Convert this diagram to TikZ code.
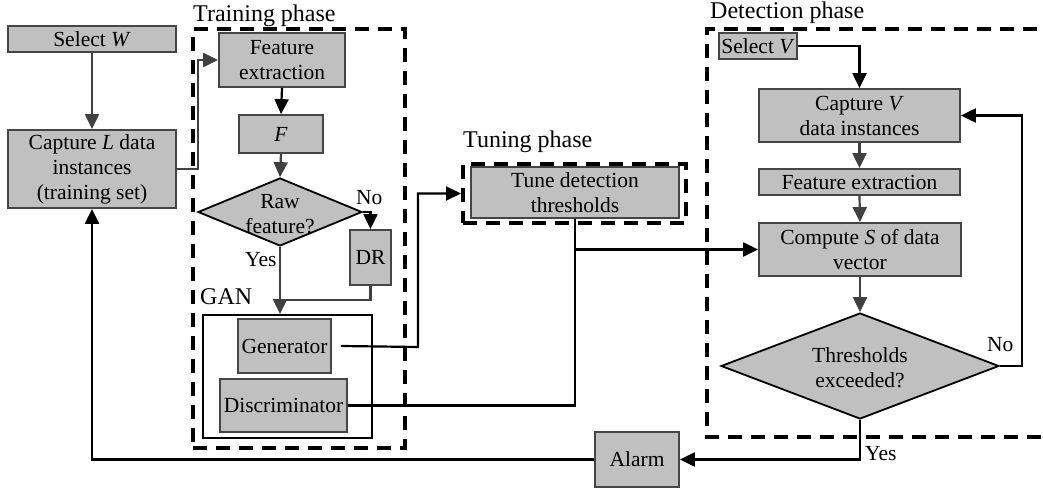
\documentclass[tikz,border=0pt]{standalone}
\usepackage{fontspec}
\setmainfont{Liberation Serif}
\usetikzlibrary{shapes.geometric,arrows.meta}
\definecolor{boxfill}{HTML}{C0C0C0}
\definecolor{boxline}{HTML}{454545}
\definecolor{darkarrow}{HTML}{404040}
\newcommand{\boxfont}{\rmfamily\fontsize{21.5}{25}\selectfont}
\tikzset{
  box/.style={draw=boxline, fill=boxfill, line width=1.8pt, align=center, inner sep=0pt,
              font=\boxfont},
  dia/.style={shape=diamond, draw=black, fill=boxfill, line width=1.8pt, inner sep=0pt},
  txt/.style={font=\boxfont, align=center, inner sep=0pt},
  lbl/.style={font=\rmfamily\fontsize{24}{28}\selectfont, inner sep=0pt, anchor=base west},
  small/.style={font=\boxfont, inner sep=0pt, anchor=base west},
  dashbox/.style={draw=black, line width=4pt, dash pattern=on 14pt off 9pt},
  blk/.style={draw=black, line width=2.2pt, -{Triangle[length=15pt,width=14pt]}},
  gry/.style={draw=darkarrow, line width=2.2pt, -{Triangle[length=15pt,width=14pt]}},
  plain/.style={draw=black, line width=2.2pt},
}
\begin{document}
\begin{tikzpicture}[x=1pt,y=-1pt]
\useasboundingbox (0,0) rectangle (1043,494);

% phase frames
\node[dashbox, minimum width=212pt, minimum height=419pt, inner sep=0pt] (training) at (299,238.5) {};
\node[lbl] (trainlbl) at (193,22) {Training phase};
\node[dashbox, minimum width=223pt, minimum height=59pt, inner sep=0pt] (tuning) at (574.5,193.5) {};
\node[lbl] (tunelbl) at (463,148) {Tuning phase};
\draw[dashbox] (1060,29) -- (707,29) -- (707,437) -- (1060,437);
\node[lbl] (detlbl) at (710,19) {Detection phase};

% left column
\node[box, minimum width=168pt, minimum height=26pt] (selW) at (92,39) {Select \textit{W}};
\node[box, minimum width=168pt, minimum height=78pt] (capL) at (92,169) {Capture \textit{L} data\\instances\\(training set)};

% training phase
\node[box, minimum width=126pt, minimum height=54pt] (feat1) at (282,60) {Feature\\extraction};
\node[box, minimum width=84pt, minimum height=38pt] (F) at (281,134) {\textit{F}};
\node[dia, minimum width=164pt, minimum height=68pt] (raw) at (280,212) {};
\node[txt] (rawtxt) at (280,214) {Raw\\feature?};
\node[box, minimum width=41pt, minimum height=55pt] (dr) at (370.5,257.5) {DR};
\node[small] (no1) at (356,205) {No};
\node[small] (yes1) at (245,266) {Yes};
\node[lbl] (ganlbl) at (200,304) {GAN};
\node[draw=black, line width=1.8pt, minimum width=169pt, minimum height=123pt, inner sep=0pt] (gan) at (287.5,376.5) {};
\node[box, minimum width=93pt, minimum height=54pt] (gen) at (284.5,346) {Generator};
\node[box, minimum width=127pt, minimum height=53pt] (disc) at (283.5,405.5) {Discriminator};
\coordinate (j) at (280,300);
\coordinate (g1) at (418,347);

% tuning
\node[box, minimum width=208pt, minimum height=51pt] (tune) at (575,192.5) {Tune detection\\thresholds};

% detection phase
\node[box, minimum width=78pt, minimum height=26pt] (selV) at (758,46) {Select \textit{V}};
\node[box, minimum width=201pt, minimum height=53pt] (capV) at (859.5,115.5) {Capture \textit{V}\\data instances};
\node[box, minimum width=201pt, minimum height=26pt] (featD) at (859.5,182) {Feature extraction};
\node[box, minimum width=202pt, minimum height=53pt] (comp) at (860,249.5) {Compute \textit{S} of data\\vector};
\node[dia, minimum width=278pt, minimum height=106pt] (thr) at (860,366) {};
\node[txt] (thrtxt) at (860,368) {Thresholds\\exceeded?};
\node[small] (no2) at (987,351) {No};
\node[small] (yes2) at (865,460) {Yes};
\node[box, minimum width=84pt, minimum height=55pt] (alarm) at (637,459.5) {Alarm};

% connectors
\draw[gry] (selW.south) -- (capL.north);
\draw[gry] (capL.east) -- ++(21,0) |- (feat1.west);
\draw[blk] (feat1.south) -- (F.north);
\draw[gry] (F.south) -- (raw.north);
\draw[blk] (raw.east) -| (dr.north);
\draw[gry] (raw.south) -- (raw.south |- gan.north);
\draw[draw=darkarrow, line width=2.2pt] (dr.south) |- (j);
\draw[blk] ([xshift=9pt]gen.east) -- (g1) |- (tuning.west);
\draw[plain] (disc.east) -| (tune.south);
\draw[blk] (tune.south) |- (comp.west);
\draw[blk] (selV.east) -| (capV.north);
\draw[gry] (capV.south) -- (featD.north);
\draw[gry] (featD.south) -- (comp.north);
\draw[gry] (comp.south) -- (thr.north);
\draw[blk] (thr.east) -- ++(22,0) |- (capV.east);
\draw[blk] (thr.south) |- (alarm.east);
\draw[blk] (alarm.west) -| (capL.south);
\end{tikzpicture}
\end{document}
